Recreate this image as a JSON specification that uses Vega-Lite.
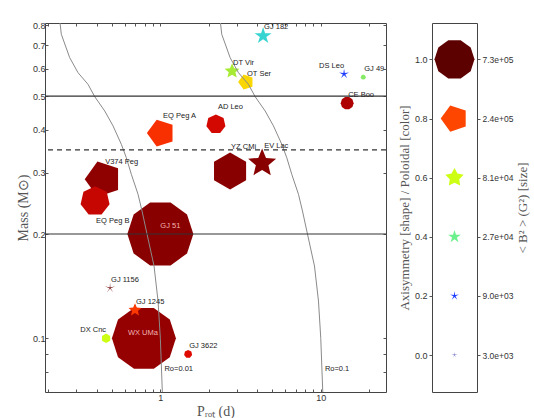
{
  "$schema": "https://vega.github.io/schema/vega-lite/v6.json",
  "padding": {"left": 15, "top": 20, "right": 0, "bottom": 0},
  "background": "white",
  "config": {
    "view": {"stroke": "#444", "strokeWidth": 1},
    "axis": {"labelFont": "Liberation Sans", "labelFontSize": 9, "labelColor": "#333", "titleFont": "Liberation Serif", "titleFontWeight": "normal", "titleColor": "#555", "tickColor": "#555", "grid": false, "domain": false, "labelOverlap": false, "labelFlush": false},
    "text": {"font": "Liberation Sans", "fontSize": 7.5, "color": "#222", "baseline": "middle"}
  },
  "datasets": {
    "stars": [
      {"name": "GJ 51", "prot": 1.0, "mass": 0.2, "axisym": 1, "poloidal": 0.96, "B2": 3280000},
      {"name": "WX UMa", "prot": 0.79, "mass": 0.1, "axisym": 1, "poloidal": 0.95, "B2": 2990000},
      {"name": "YZ CMi", "prot": 2.72, "mass": 0.304, "axisym": 0.84, "poloidal": 0.96, "B2": 580000},
      {"name": "V374 Peg", "prot": 0.44, "mass": 0.288, "axisym": 0.8, "poloidal": 0.955, "B2": 570000},
      {"name": "EQ Peg B", "prot": 0.392, "mass": 0.249, "axisym": 0.88, "poloidal": 0.91, "B2": 300000},
      {"name": "EV Lac", "prot": 4.31, "mass": 0.32, "axisym": 0.5, "poloidal": 0.96, "B2": 290000},
      {"name": "EQ Peg A", "prot": 1.01, "mass": 0.391, "axisym": 0.8, "poloidal": 0.83, "B2": 260000},
      {"name": "AD Leo", "prot": 2.22, "mass": 0.415, "axisym": 0.88, "poloidal": 0.9, "B2": 85000},
      {"name": "GJ 182", "prot": 4.37, "mass": 0.746, "axisym": 0.4, "poloidal": 0.33, "B2": 65000},
      {"name": "DT Vir", "prot": 2.8, "mass": 0.59, "axisym": 0.5, "poloidal": 0.52, "B2": 45000},
      {"name": "OT Ser", "prot": 3.42, "mass": 0.549, "axisym": 0.8, "poloidal": 0.69, "B2": 45000},
      {"name": "GJ 1245", "prot": 0.695, "mass": 0.1207, "axisym": 0.5, "poloidal": 0.82, "B2": 29000},
      {"name": "CE Boo", "prot": 14.6, "mass": 0.477, "axisym": 1, "poloidal": 0.93, "B2": 25000},
      {"name": "GJ 1156", "prot": 0.486, "mass": 0.1397, "axisym": 0, "poloidal": 0.99, "B2": 15000},
      {"name": "DS Leo", "prot": 13.97, "mass": 0.579, "axisym": 0.2, "poloidal": 0.2, "B2": 13000},
      {"name": "DX Cnc", "prot": 0.459, "mass": 0.1, "axisym": 0.84, "poloidal": 0.6, "B2": 9800},
      {"name": "GJ 3622", "prot": 1.49, "mass": 0.09, "axisym": 0.88, "poloidal": 0.89, "B2": 6300},
      {"name": "GJ 49", "prot": 18.4, "mass": 0.567, "axisym": 1, "poloidal": 0.45, "B2": 1400}
    ],
    "curves": [
      {"ro": "0.01", "prot": 0.2355, "mass": 0.83},
      {"ro": "0.01", "prot": 0.2369, "mass": 0.8143},
      {"ro": "0.01", "prot": 0.2414, "mass": 0.7541},
      {"ro": "0.01", "prot": 0.2723, "mass": 0.6453},
      {"ro": "0.01", "prot": 0.3068, "mass": 0.5842},
      {"ro": "0.01", "prot": 0.354, "mass": 0.5408},
      {"ro": "0.01", "prot": 0.3899, "mass": 0.4982},
      {"ro": "0.01", "prot": 0.4501, "mass": 0.4529},
      {"ro": "0.01", "prot": 0.5072, "mass": 0.4101},
      {"ro": "0.01", "prot": 0.5713, "mass": 0.363},
      {"ro": "0.01", "prot": 0.6138, "mass": 0.332},
      {"ro": "0.01", "prot": 0.6595, "mass": 0.2974},
      {"ro": "0.01", "prot": 0.7261, "mass": 0.2604},
      {"ro": "0.01", "prot": 0.769, "mass": 0.233},
      {"ro": "0.01", "prot": 0.826, "mass": 0.2},
      {"ro": "0.01", "prot": 0.9135, "mass": 0.1617},
      {"ro": "0.01", "prot": 0.9675, "mass": 0.1281},
      {"ro": "0.01", "prot": 1.0, "mass": 0.1},
      {"ro": "0.01", "prot": 1.029, "mass": 0.07},
      {"ro": "0.01", "prot": 1.031, "mass": 0.068},
      {"ro": "0.1", "prot": 2.355, "mass": 0.83},
      {"ro": "0.1", "prot": 2.369, "mass": 0.8143},
      {"ro": "0.1", "prot": 2.414, "mass": 0.7541},
      {"ro": "0.1", "prot": 2.723, "mass": 0.6453},
      {"ro": "0.1", "prot": 3.068, "mass": 0.5842},
      {"ro": "0.1", "prot": 3.54, "mass": 0.5408},
      {"ro": "0.1", "prot": 3.899, "mass": 0.4982},
      {"ro": "0.1", "prot": 4.501, "mass": 0.4529},
      {"ro": "0.1", "prot": 5.072, "mass": 0.4101},
      {"ro": "0.1", "prot": 5.713, "mass": 0.363},
      {"ro": "0.1", "prot": 6.138, "mass": 0.332},
      {"ro": "0.1", "prot": 6.595, "mass": 0.2974},
      {"ro": "0.1", "prot": 7.261, "mass": 0.2604},
      {"ro": "0.1", "prot": 7.69, "mass": 0.233},
      {"ro": "0.1", "prot": 8.26, "mass": 0.2},
      {"ro": "0.1", "prot": 9.135, "mass": 0.1617},
      {"ro": "0.1", "prot": 9.675, "mass": 0.1281},
      {"ro": "0.1", "prot": 10.0, "mass": 0.1},
      {"ro": "0.1", "prot": 10.29, "mass": 0.07},
      {"ro": "0.1", "prot": 10.31, "mass": 0.068}
    ],
    "key": [
      {"level": 0, "B2": 3000},
      {"level": 0.2, "B2": 9000},
      {"level": 0.4, "B2": 27000},
      {"level": 0.6, "B2": 81000},
      {"level": 0.8, "B2": 240000},
      {"level": 1, "B2": 730000}
    ]
  },
  "hconcat": [
    {
      "width": 341,
      "height": 369,
      "layer": [
        {
          "data": {"name": "stars"},
          "mark": {"type": "point", "filled": true, "opacity": 1, "strokeWidth": 0},
          "encoding": {
            "x": {"field": "prot", "type": "quantitative", "scale": {"type": "log", "domain": [0.191, 25.5], "nice": false},
              "axis": {"orient": "bottom", "values": [0.2, 0.3, 0.4, 0.5, 0.6, 0.7, 0.8, 0.9, 1, 2, 3, 4, 5, 6, 7, 8, 9, 10, 20], "format": "~g", "tickSize": -3, "labelPadding": 4, "labelExpr": "datum.value == 1 || datum.value == 10 ? datum.label : ''", "title": "Pᵣₒₜ (d)", "titleFontSize": 14, "titlePadding": 2}},
            "y": {"field": "mass", "type": "quantitative", "scale": {"type": "log", "domain": [0.07, 0.8127], "nice": false},
              "axis": {"orient": "left", "values": [0.08, 0.09, 0.1, 0.2, 0.3, 0.4, 0.5, 0.6, 0.7, 0.8], "tickSize": -3, "labelPadding": 3, "labelExpr": "datum.value >= 0.0999 ? format(datum.value, '.1f') : ''", "title": "Mass (M⊙)", "titleFontSize": 14, "titlePadding": 2}},
            "shape": {"field": "axisym", "type": "ordinal", "legend": null, "scale": {
              "domain": [0, 0.1, 0.2, 0.3, 0.4, 0.5, 0.6, 0.7, 0.8, 0.84, 0.88, 0.92, 0.96, 1],
              "range": [
                "M0,-1L0.059,-0.081L0.951,-0.309L0.095,0.031L0.588,0.809L0,0.1L-0.588,0.809L-0.095,0.031L-0.951,-0.309L-0.059,-0.081Z",
                "M0,-1L0.1,-0.138L0.951,-0.309L0.162,0.053L0.588,0.809L0,0.17L-0.588,0.809L-0.162,0.053L-0.951,-0.309L-0.1,-0.138Z",
                "M0,-1L0.141,-0.194L0.951,-0.309L0.228,0.074L0.588,0.809L0,0.24L-0.588,0.809L-0.228,0.074L-0.951,-0.309L-0.141,-0.194Z",
                "M0,-1L0.176,-0.243L0.951,-0.309L0.285,0.093L0.588,0.809L0,0.3L-0.588,0.809L-0.285,0.093L-0.951,-0.309L-0.176,-0.243Z",
                "M0,-1L0.223,-0.307L0.951,-0.309L0.361,0.117L0.588,0.809L0,0.38L-0.588,0.809L-0.361,0.117L-0.951,-0.309L-0.223,-0.307Z",
                "M0,-1L0.265,-0.364L0.951,-0.309L0.428,0.139L0.588,0.809L0,0.45L-0.588,0.809L-0.428,0.139L-0.951,-0.309L-0.265,-0.364Z",
                "M0,-1L0.306,-0.421L0.951,-0.309L0.495,0.161L0.588,0.809L0,0.52L-0.588,0.809L-0.495,0.161L-0.951,-0.309L-0.306,-0.421Z",
                "M0,-1L0.365,-0.502L0.951,-0.309L0.59,0.192L0.588,0.809L0,0.62L-0.588,0.809L-0.59,0.192L-0.951,-0.309L-0.365,-0.502Z",
                "M-0.309,-0.951L0.809,-0.588L0.809,0.588L-0.309,0.951L-1,0Z",
                "M0,-1L0.866,-0.5L0.866,0.5L0,1L-0.866,0.5L-0.866,-0.5Z",
                "M0,-1L0.782,-0.623L0.975,0.223L0.434,0.901L-0.434,0.901L-0.975,0.223L-0.782,-0.623Z",
                "M0.383,-0.924L0.924,-0.383L0.924,0.383L0.383,0.924L-0.383,0.924L-0.924,0.383L-0.924,-0.383L-0.383,-0.924Z",
                "M0,-1L0.643,-0.766L0.985,-0.174L0.866,0.5L0.342,0.94L-0.342,0.94L-0.866,0.5L-0.985,-0.174L-0.643,-0.766Z",
                "M0.309,-0.951L0.809,-0.588L1,0L0.809,0.588L0.309,0.951L-0.309,0.951L-0.809,0.588L-1,0L-0.809,-0.588L-0.309,-0.951Z"
              ]}},
            "color": {"field": "poloidal", "type": "quantitative", "legend": null, "scale": {
              "domain": [0, 0.2, 0.3, 0.4, 0.5, 0.6, 0.7, 0.8, 0.88, 0.94, 1],
              "range": ["#3434b0", "#1f3dff", "#22c8f0", "#6cf08c", "#9ee640", "#ccff14", "#ffd200", "#ff4600", "#ec0c00", "#a00000", "#5c0000"],
              "interpolate": "rgb"}},
            "size": {"field": "B2", "type": "quantitative", "legend": null, "scale": {"type": "pow", "exponent": 0.6667, "domain": [0, 5840000], "range": [0, 6400]}}
          }
        },
        {
          "data": {"name": "curves"},
          "mark": {"type": "line", "color": "#8a8a8a", "strokeWidth": 1, "clip": true},
          "encoding": {
            "x": {"field": "prot", "type": "quantitative", "scale": {"type": "log", "domain": [0.191, 25.5], "nice": false},
              "axis": {"orient": "top", "values": [0.2, 0.3, 0.4, 0.5, 0.6, 0.7, 0.8, 0.9, 1, 2, 3, 4, 5, 6, 7, 8, 9, 10, 20], "tickSize": -3, "labels": false, "title": null}},
            "y": {"field": "mass", "type": "quantitative", "scale": {"type": "log", "domain": [0.07, 0.8127], "nice": false},
              "axis": {"orient": "right", "values": [0.08, 0.09, 0.1, 0.2, 0.3, 0.4, 0.5, 0.6, 0.7, 0.8], "tickSize": -3, "labels": false, "title": null}},
            "detail": {"field": "ro"},
            "order": {"field": "mass", "sort": "descending"}
          }
        },
        {
          "data": {"values": [{"mass": 0.2}, {"mass": 0.5}]},
          "mark": {"type": "rule", "color": "#333", "strokeWidth": 1.2},
          "encoding": {"y": {"field": "mass", "type": "quantitative", "scale": {"type": "log", "domain": [0.07, 0.8127], "nice": false}, "axis": null}}
        },
        {
          "data": {"values": [{"mass": 0.35}]},
          "mark": {"type": "rule", "color": "#333", "strokeWidth": 1.2, "strokeDash": [5, 4]},
          "encoding": {"y": {"field": "mass", "type": "quantitative", "scale": {"type": "log", "domain": [0.07, 0.8127], "nice": false}, "axis": null}}
        },
        {
          "data": {"name": "stars"},
          "transform": [{"filter": {"field": "name", "oneOf": ["GJ 182", "DT Vir", "OT Ser", "CE Boo", "GJ 1156", "GJ 1245", "GJ 3622", "GJ 49"]}}],
          "mark": {"type": "text", "align": "left", "dx": 1, "dy": -8.5},
          "encoding": {
            "x": {"field": "prot", "type": "quantitative", "scale": {"type": "log", "domain": [0.191, 25.5], "nice": false}, "axis": null},
            "y": {"field": "mass", "type": "quantitative", "scale": {"type": "log", "domain": [0.07, 0.8127], "nice": false}, "axis": null},
            "text": {"field": "name"}
          }
        },
        {
          "data": {"name": "stars"},
          "transform": [{"filter": {"field": "name", "oneOf": ["EQ Peg A", "AD Leo", "EV Lac", "V374 Peg"]}}],
          "mark": {"type": "text", "align": "left", "dx": 2, "dy": -17},
          "encoding": {
            "x": {"field": "prot", "type": "quantitative", "scale": {"type": "log", "domain": [0.191, 25.5], "nice": false}, "axis": null},
            "y": {"field": "mass", "type": "quantitative", "scale": {"type": "log", "domain": [0.07, 0.8127], "nice": false}, "axis": null},
            "text": {"field": "name"}
          }
        },
        {
          "data": {"name": "stars"},
          "transform": [{"filter": {"field": "name", "oneOf": ["YZ CMi"]}}],
          "mark": {"type": "text", "align": "left", "dx": 1, "dy": -24},
          "encoding": {
            "x": {"field": "prot", "type": "quantitative", "scale": {"type": "log", "domain": [0.191, 25.5], "nice": false}, "axis": null},
            "y": {"field": "mass", "type": "quantitative", "scale": {"type": "log", "domain": [0.07, 0.8127], "nice": false}, "axis": null},
            "text": {"field": "name"}
          }
        },
        {
          "data": {"name": "stars"},
          "transform": [{"filter": {"field": "name", "oneOf": ["DX Cnc", "DS Leo"]}}],
          "mark": {"type": "text", "align": "right", "dx": 0, "dy": -8.5},
          "encoding": {
            "x": {"field": "prot", "type": "quantitative", "scale": {"type": "log", "domain": [0.191, 25.5], "nice": false}, "axis": null},
            "y": {"field": "mass", "type": "quantitative", "scale": {"type": "log", "domain": [0.07, 0.8127], "nice": false}, "axis": null},
            "text": {"field": "name"}
          }
        },
        {
          "data": {"name": "stars"},
          "transform": [{"filter": {"field": "name", "oneOf": ["EQ Peg B"]}}],
          "mark": {"type": "text", "align": "left", "dx": 1, "dy": 20},
          "encoding": {
            "x": {"field": "prot", "type": "quantitative", "scale": {"type": "log", "domain": [0.191, 25.5], "nice": false}, "axis": null},
            "y": {"field": "mass", "type": "quantitative", "scale": {"type": "log", "domain": [0.07, 0.8127], "nice": false}, "axis": null},
            "text": {"field": "name"}
          }
        },
        {
          "data": {"name": "stars"},
          "transform": [{"filter": {"field": "name", "oneOf": ["GJ 51"]}}],
          "mark": {"type": "text", "align": "center", "dx": 10, "dy": -8.5, "color": "#f2b4b4"},
          "encoding": {
            "x": {"field": "prot", "type": "quantitative", "scale": {"type": "log", "domain": [0.191, 25.5], "nice": false}, "axis": null},
            "y": {"field": "mass", "type": "quantitative", "scale": {"type": "log", "domain": [0.07, 0.8127], "nice": false}, "axis": null},
            "text": {"field": "name"}
          }
        },
        {
          "data": {"name": "stars"},
          "transform": [{"filter": {"field": "name", "oneOf": ["WX UMa"]}}],
          "mark": {"type": "text", "align": "center", "dx": -1, "dy": -5, "color": "#f2b4b4"},
          "encoding": {
            "x": {"field": "prot", "type": "quantitative", "scale": {"type": "log", "domain": [0.191, 25.5], "nice": false}, "axis": null},
            "y": {"field": "mass", "type": "quantitative", "scale": {"type": "log", "domain": [0.07, 0.8127], "nice": false}, "axis": null},
            "text": {"field": "name"}
          }
        },
        {
          "data": {"values": [{"label": "Ro=0.01", "prot": 1.016, "mass": 0.0815}, {"label": "Ro=0.1", "prot": 10.16, "mass": 0.0815}]},
          "mark": {"type": "text", "align": "left", "dx": 3},
          "encoding": {
            "x": {"field": "prot", "type": "quantitative", "scale": {"type": "log", "domain": [0.191, 25.5], "nice": false}, "axis": null},
            "y": {"field": "mass", "type": "quantitative", "scale": {"type": "log", "domain": [0.07, 0.8127], "nice": false}, "axis": null},
            "text": {"field": "label"}
          }
        }
      ],
      "resolve": {"axis": {"x": "independent", "y": "independent"}}
    },
    {
      "width": 45,
      "height": 369,
      "data": {"name": "key"},
      "layer": [
        {
          "mark": {"type": "point", "filled": true, "opacity": 1, "strokeWidth": 0},
          "encoding": {
            "x": {"datum": 0, "type": "quantitative", "scale": {"domain": [-1, 1]}, "axis": null},
            "y": {"field": "level", "type": "quantitative", "scale": {"domain": [-0.125, 1.123], "nice": false, "zero": false},
              "axis": {"orient": "left", "values": [0, 0.2, 0.4, 0.6, 0.8, 1], "format": ".1f", "tickSize": 3, "labelPadding": 2, "title": "Axisymmetry [shape] / Poloidal [color]", "titleFontSize": 13, "titlePadding": 3}},
            "shape": {"field": "level", "type": "ordinal", "legend": null, "scale": {
              "domain": [0, 0.1, 0.2, 0.3, 0.4, 0.5, 0.6, 0.7, 0.8, 0.84, 0.88, 0.92, 0.96, 1],
              "range": [
                "M0,-1L0.059,-0.081L0.951,-0.309L0.095,0.031L0.588,0.809L0,0.1L-0.588,0.809L-0.095,0.031L-0.951,-0.309L-0.059,-0.081Z",
                "M0,-1L0.1,-0.138L0.951,-0.309L0.162,0.053L0.588,0.809L0,0.17L-0.588,0.809L-0.162,0.053L-0.951,-0.309L-0.1,-0.138Z",
                "M0,-1L0.141,-0.194L0.951,-0.309L0.228,0.074L0.588,0.809L0,0.24L-0.588,0.809L-0.228,0.074L-0.951,-0.309L-0.141,-0.194Z",
                "M0,-1L0.176,-0.243L0.951,-0.309L0.285,0.093L0.588,0.809L0,0.3L-0.588,0.809L-0.285,0.093L-0.951,-0.309L-0.176,-0.243Z",
                "M0,-1L0.223,-0.307L0.951,-0.309L0.361,0.117L0.588,0.809L0,0.38L-0.588,0.809L-0.361,0.117L-0.951,-0.309L-0.223,-0.307Z",
                "M0,-1L0.265,-0.364L0.951,-0.309L0.428,0.139L0.588,0.809L0,0.45L-0.588,0.809L-0.428,0.139L-0.951,-0.309L-0.265,-0.364Z",
                "M0,-1L0.306,-0.421L0.951,-0.309L0.495,0.161L0.588,0.809L0,0.52L-0.588,0.809L-0.495,0.161L-0.951,-0.309L-0.306,-0.421Z",
                "M0,-1L0.365,-0.502L0.951,-0.309L0.59,0.192L0.588,0.809L0,0.62L-0.588,0.809L-0.59,0.192L-0.951,-0.309L-0.365,-0.502Z",
                "M-0.309,-0.951L0.809,-0.588L0.809,0.588L-0.309,0.951L-1,0Z",
                "M0,-1L0.866,-0.5L0.866,0.5L0,1L-0.866,0.5L-0.866,-0.5Z",
                "M0,-1L0.782,-0.623L0.975,0.223L0.434,0.901L-0.434,0.901L-0.975,0.223L-0.782,-0.623Z",
                "M0.383,-0.924L0.924,-0.383L0.924,0.383L0.383,0.924L-0.383,0.924L-0.924,0.383L-0.924,-0.383L-0.383,-0.924Z",
                "M0,-1L0.643,-0.766L0.985,-0.174L0.866,0.5L0.342,0.94L-0.342,0.94L-0.866,0.5L-0.985,-0.174L-0.643,-0.766Z",
                "M0.309,-0.951L0.809,-0.588L1,0L0.809,0.588L0.309,0.951L-0.309,0.951L-0.809,0.588L-1,0L-0.809,-0.588L-0.309,-0.951Z"
              ]}},
            "color": {"field": "level", "type": "quantitative", "legend": null, "scale": {
              "domain": [0, 0.2, 0.3, 0.4, 0.5, 0.6, 0.7, 0.8, 0.88, 0.94, 1],
              "range": ["#3434b0", "#1f3dff", "#22c8f0", "#6cf08c", "#9ee640", "#ccff14", "#ffd200", "#ff4600", "#ec0c00", "#a00000", "#5c0000"],
              "interpolate": "rgb"}},
            "size": {"field": "B2", "type": "quantitative", "legend": null, "scale": {"type": "pow", "exponent": 0.6667, "domain": [0, 5840000], "range": [0, 6400]}}
          }
        },
        {
          "mark": {"type": "point", "opacity": 0},
          "encoding": {
            "y": {"field": "level", "type": "quantitative", "scale": {"domain": [-0.125, 1.123], "nice": false, "zero": false},
              "axis": {"orient": "right", "values": [0, 0.2, 0.4, 0.6, 0.8, 1], "tickSize": 3, "labelPadding": 2, "labelFontSize": 8.5,
                "labelExpr": "datum.value > 0.9 ? '7.3e+05' : datum.value > 0.7 ? '2.4e+05' : datum.value > 0.5 ? '8.1e+04' : datum.value > 0.3 ? '2.7e+04' : datum.value > 0.1 ? '9.0e+03' : '3.0e+03'",
                "title": "< B² > (G²) [size]", "titleFontSize": 13, "titleAngle": 270, "titleBaseline": "top", "titlePadding": 4}}
          }
        }
      ],
      "resolve": {"axis": {"y": "independent"}}
    }
  ],
  "spacing": 46,
  "bounds": "flush",
  "resolve": {"scale": {"x": "independent", "y": "independent", "color": "independent", "shape": "independent", "size": "independent"}}
}
